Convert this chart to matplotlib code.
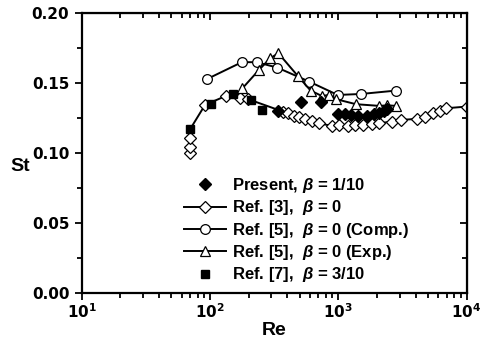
import numpy as np
import matplotlib.pyplot as plt

plt.rcParams['font.family'] = ['Liberation Sans', 'DejaVu Sans']
plt.rcParams['font.weight'] = 'bold'
plt.rcParams['mathtext.fontset'] = 'custom'
plt.rcParams['mathtext.rm'] = 'Liberation Sans:bold'
plt.rcParams['mathtext.it'] = 'Liberation Sans:italic:bold'
plt.rcParams['mathtext.bf'] = 'Liberation Sans:bold'

# Present, beta = 1/10
re_present = [341, 509, 729, 1000, 1128, 1256, 1432, 1683, 1909, 2089, 2272, 2384]
st_present = [0.130, 0.1366, 0.1366, 0.1276, 0.1276, 0.1271, 0.1266, 0.1266,
              0.1276, 0.1288, 0.1302, 0.1311]

# Ref. [3], beta = 0
re_ref3 = [70, 70, 70, 70, 91.4, 133, 171, 198, 371, 408, 452, 494, 551, 624, 711,
           889, 1019, 1197, 1349, 1549, 1820, 2089, 2608, 3080, 4085, 4741,
           5500, 6205, 6907, 10000]
st_ref3 = [0.0998, 0.1045, 0.1105, 0.117, 0.1343, 0.1407, 0.1391, 0.1384, 0.1295,
           0.1284, 0.1266, 0.1255, 0.1243, 0.1231, 0.1212, 0.1193, 0.1200,
           0.1195, 0.1200, 0.1200, 0.1205, 0.1212, 0.1224, 0.1236, 0.1243,
           0.1259, 0.1284, 0.1300, 0.1319, 0.1331]
mark_ref3 = [0, 1, 2] + list(range(4, len(re_ref3)))

# Ref. [5], beta = 0 (Comp.)
re_comp = [94, 177, 231, 335, 594, 989, 1503, 2800]
st_comp = [0.1526, 0.1648, 0.1648, 0.1609, 0.1509, 0.1414, 0.1421, 0.1445]

# Ref. [5], beta = 0 (Exp.)
re_exp = [179, 241, 294, 341, 483, 609, 743, 851, 960, 1374, 2089, 2412, 2818]
st_exp = [0.1462, 0.1593, 0.1676, 0.1712, 0.1550, 0.1445, 0.1407, 0.1414,
          0.1384, 0.1348, 0.1336, 0.1340, 0.1336]

# Ref. [7], beta = 3/10
re_ref7 = [70, 102, 151, 208, 254]
st_ref7 = [0.117, 0.135, 0.1419, 0.1379, 0.1307]

yticks = [0.00, 0.05, 0.10, 0.15, 0.20]
ytick_labels = ['0.00', '0.05', '0.10', '0.15', '0.20']

fig = plt.figure(figsize=(4.81, 3.48), dpi=100)
ax = fig.add_axes([0.170, 0.158, 0.800, 0.805])

ax.plot(re_ref3, st_ref3, '-', color='black', lw=1.4, marker='D', ms=6,
        mfc='white', mec='black', mew=0.9, markevery=mark_ref3,
        label=r'Ref. [3],  $\beta$ = 0', zorder=2)
ax.plot(re_comp, st_comp, '-', color='black', lw=1.4, marker='o', ms=7,
        mfc='white', mec='black', mew=0.9,
        label=r'Ref. [5],  $\beta$ = 0 (Comp.)', zorder=3)
ax.plot(re_exp, st_exp, '-', color='black', lw=1.4, marker='^', ms=7.5,
        mfc='white', mec='black', mew=0.9,
        label=r'Ref. [5],  $\beta$ = 0 (Exp.)', zorder=3)
ax.plot(re_ref7, st_ref7, 's', color='black', ms=5.5,
        label=r'Ref. [7],  $\beta$ = 3/10', zorder=4)
ax.plot(re_present, st_present, 'D', color='black', ms=6,
        label=r'Present, $\beta$ = 1/10', zorder=5)

ax.set_xscale('log')
ax.set_xlim(10, 10000)
ax.set_ylim(0, 0.20)
ax.set_yticks(yticks)
ax.set_yticks(np.arange(0.025, 0.2, 0.05), minor=True)
ax.set_yticklabels(ytick_labels)

ax.tick_params(which='both', direction='out', width=1.3, labelsize=11)
ax.tick_params(which='major', length=5, pad=4)
ax.tick_params(which='minor', length=3.5)
ax.tick_params(axis='x', which='major', pad=2)
for lab in ax.get_xticklabels() + ax.get_yticklabels():
    lab.set_fontweight('bold')
    lab.set_fontfamily('DejaVu Sans')
for sp in ax.spines.values():
    sp.set_linewidth(1.6)

# mirrored ticks on top and right point inward
top = ax.secondary_xaxis('top')
top.tick_params(which='both', direction='in', width=1.3, labeltop=False)
top.tick_params(which='major', length=5)
top.tick_params(which='minor', length=3.5)
right = ax.secondary_yaxis('right')
right.set_yticks(yticks)
right.set_yticks(np.arange(0.025, 0.2, 0.05), minor=True)
right.tick_params(which='both', direction='in', width=1.3, labelright=False)
right.tick_params(which='major', length=5)
right.tick_params(which='minor', length=3.5)

ax.set_xlabel('Re', fontsize=14, fontweight='bold', va='center')
ax.xaxis.set_label_coords(0.5, -0.135)
ax.set_ylabel('St', fontsize=14, fontweight='bold', rotation=0,
              va='center', ha='center')
ax.yaxis.set_label_coords(-0.16, 0.45)

handles, labels = ax.get_legend_handles_labels()
order = [4, 0, 1, 2, 3]
ax.legend([handles[i] for i in order], [labels[i] for i in order],
          loc='upper left', bbox_to_anchor=(184 / 481, 1 - 176 / 348),
          bbox_transform=fig.transFigure, frameon=False,
          handlelength=2.5, handletextpad=0.35, labelspacing=0.2,
          borderaxespad=0, borderpad=0,
          prop={'weight': 'bold', 'size': 12})

fig.savefig('out.png', dpi=100)
